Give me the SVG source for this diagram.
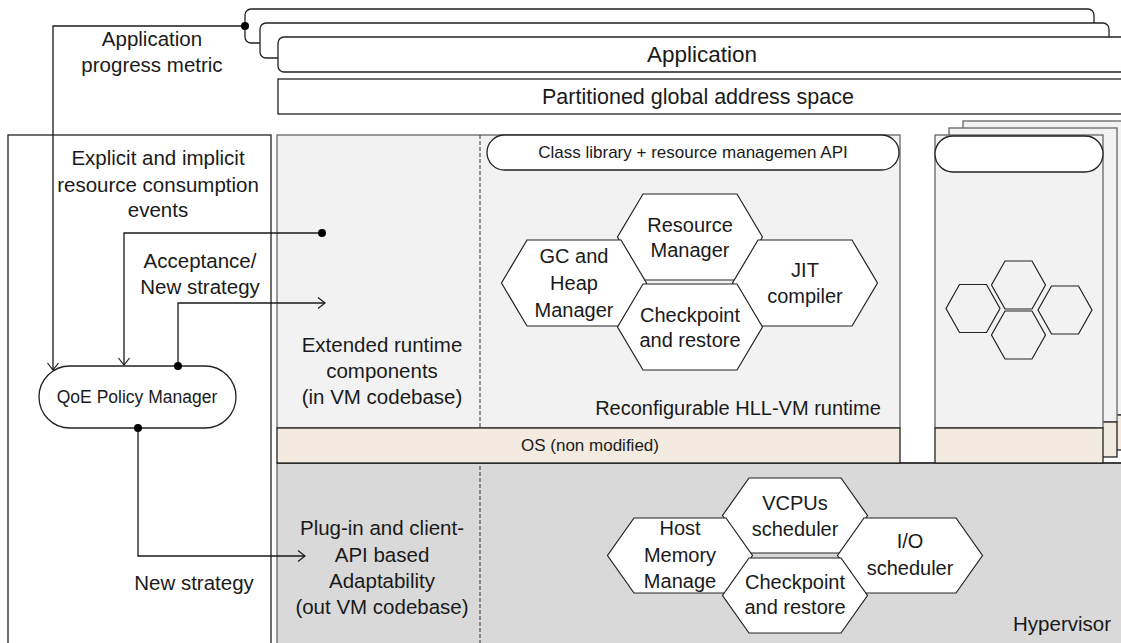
<svg xmlns="http://www.w3.org/2000/svg" width="1121" height="643" viewBox="0 0 1121 643">
<defs>
<style>
text{font-family:"Liberation Sans",Arial,sans-serif;fill:#1a1a1a;text-anchor:middle}
.t20{font-size:20px}
.t21{font-size:20.5px}
.t17{font-size:17px}
.box{fill:#fff;stroke:#222;stroke-width:1.3}
.rt{fill:#f2f2f2;stroke:#666;stroke-width:1.3}
.os{fill:#f3ebe0;stroke:#222;stroke-width:1.3}
.hex{fill:#fff;stroke:#222;stroke-width:1.2}
.shex{fill:none;stroke:#222;stroke-width:1.2}
.conn{fill:none;stroke:#1a1a1a;stroke-width:1.3}
.dash{stroke:#333;stroke-width:1;stroke-dasharray:4 2}
</style>
<marker id="arr" viewBox="-10 -8 12 16" refX="0" refY="0" markerWidth="12" markerHeight="16" markerUnits="userSpaceOnUse" orient="auto">
<path d="M-7,-5.5 L0,0 L-7,5.5" fill="none" stroke="#1a1a1a" stroke-width="1.2"/>
</marker>
</defs>
<rect width="1121" height="643" fill="#fff"/>

<g id="app-stack">
<rect class="box" x="245" y="9" width="849" height="34" rx="6"/>
<rect class="box" x="260" y="23" width="849" height="35" rx="6"/>
<rect class="box" x="278" y="37" width="900" height="35" rx="6"/>
<text class="t21" x="702" y="62" style="font-size:22.5px">Application</text>
</g>
<g id="pgas">
<rect class="box" x="278" y="79" width="900" height="35"/>
<text x="698" y="104" style="font-size:21.5px">Partitioned global address space</text>
</g>

<g id="left-panel">
<rect class="box" x="8" y="135" width="263" height="560"/>
<text class="t21" x="152" y="46">Application</text>
<text class="t21" x="152" y="72">progress metric</text>
<text class="t21" x="158" y="165">Explicit and implicit</text>
<text class="t21" x="158" y="192">resource consumption</text>
<text class="t21" x="158" y="217">events</text>
<text class="t21" x="200" y="268">Acceptance/</text>
<text class="t21" x="200" y="294">New strategy</text>
<text class="t21" x="194" y="590">New strategy</text>
</g>

<g id="hypervisor">
<rect x="277" y="463" width="900" height="200" fill="#d9d9d9" stroke="#666" stroke-width="1.3"/>
<line x1="277" y1="463" x2="1121" y2="463" stroke="#222" stroke-width="1.5"/>
<line class="dash" x1="480" y1="466" x2="480" y2="643"/>
<text class="t21" x="382" y="535">Plug-in and client-</text>
<text class="t21" x="382" y="562">API based</text>
<text class="t21" x="382" y="588">Adaptability</text>
<text class="t21" x="382" y="614">(out VM codebase)</text>
<text class="t21" x="1111" y="631" style="text-anchor:end">Hypervisor</text>
</g>
<g id="hv-vcpu">
<polygon class="hex" points="749,478 841,478 867.5,515.5 841,553 749,553 722.5,515.5"/>
<text class="t20" x="795" y="510">VCPUs</text>
<text class="t20" x="795" y="536">scheduler</text>
</g>
<g id="hv-mem">
<polygon class="hex" points="634,518 726,518 752.5,555.5 726,593 634,593 607.5,555.5"/>
<text class="t20" x="680" y="535">Host</text>
<text class="t20" x="680" y="562">Memory</text>
<text class="t20" x="680" y="588">Manage</text>
</g>
<g id="hv-io">
<polygon class="hex" points="864,518 956,518 982.5,555.5 956,593 864,593 837.5,555.5"/>
<text class="t20" x="910" y="548">I/O</text>
<text class="t20" x="910" y="575">scheduler</text>
</g>
<g id="hv-ckpt">
<polygon class="hex" points="749,558 841,558 867.5,595.5 841,633 749,633 722.5,595.5"/>
<text class="t20" x="795" y="589">Checkpoint</text>
<text class="t20" x="795" y="614">and restore</text>
</g>

<g id="runtime">
<rect class="rt" x="277" y="135" width="623" height="293"/>
<rect class="os" x="277" y="428" width="623" height="35"/>
<line class="dash" x1="480" y1="135" x2="480" y2="428"/>
<text class="t17" x="590" y="451">OS (non modified)</text>
<text class="t21" x="382" y="352">Extended runtime</text>
<text class="t21" x="382" y="378">components</text>
<text class="t21" x="382" y="404">(in VM codebase)</text>
<text class="t20" x="738" y="415">Reconfigurable HLL-VM runtime</text>
</g>
<g id="class-lib">
<rect class="box" x="487" y="135" width="412" height="35" rx="17.5"/>
<text class="t17" x="693" y="158">Class library + resource managemen API</text>
</g>
<g id="rt-resource">
<polygon class="hex" points="643,194 737,194 762.5,237 737,280 643,280 617.5,237"/>
<text class="t20" x="690" y="232">Resource</text>
<text class="t20" x="690" y="257">Manager</text>
</g>
<g id="rt-gc">
<polygon class="hex" points="527,240 621,240 646.5,283 621,326 527,326 501.5,283"/>
<text class="t20" x="574" y="263">GC and</text>
<text class="t20" x="574" y="290">Heap</text>
<text class="t20" x="574" y="317">Manager</text>
</g>
<g id="rt-jit">
<polygon class="hex" points="758,240 852,240 877.5,283 852,326 758,326 732.5,283"/>
<text class="t20" x="805" y="277">JIT</text>
<text class="t20" x="805" y="303">compiler</text>
</g>
<g id="rt-ckpt">
<polygon class="hex" points="643,284 737,284 762.5,327 737,370 643,370 617.5,327"/>
<text class="t20" x="690" y="322">Checkpoint</text>
<text class="t20" x="690" y="347">and restore</text>
</g>

<g id="vm-stack">
<rect class="rt" x="963" y="121" width="200" height="294"/>
<rect class="os" x="963" y="415" width="200" height="35"/>
<rect class="rt" x="949" y="128" width="168" height="294"/>
<rect class="os" x="949" y="422" width="168" height="35"/>
<rect class="rt" x="935" y="135" width="168" height="293"/>
<rect class="os" x="935" y="428" width="168" height="35"/>
<rect class="box" x="935" y="136" width="168" height="36" rx="18"/>
<polygon class="shex" points="959.5,284.5 986.5,284.5 1000,308.5 986.5,332.5 959.5,332.5 946,308.5"/>
<polygon class="shex" points="1005,261 1032,261 1045.5,285 1032,309 1005,309 991.5,285"/>
<polygon class="shex" points="1051.5,286 1078.5,286 1092,310 1078.5,334 1051.5,334 1038,310"/>
<polygon class="shex" points="1005,311 1032,311 1045.5,335 1032,359 1005,359 991.5,335"/>
</g>

<g id="qoe">
<rect class="box" x="39" y="366" width="197" height="62" rx="31"/>
<text x="137" y="403" style="font-size:17.5px">QoE Policy Manager</text>
</g>

<g id="connectors">
<path class="conn" d="M245,26 H53 V370" marker-end="url(#arr)"/>
<circle cx="245" cy="26" r="4" fill="#000"/>
<path class="conn" d="M322,233 H124 V365" marker-end="url(#arr)"/>
<circle cx="322" cy="233" r="4" fill="#000"/>
<path class="conn" d="M178,366 V303 H325" marker-end="url(#arr)"/>
<circle cx="178" cy="366" r="4" fill="#000"/>
<path class="conn" d="M138,428 V556 H305" marker-end="url(#arr)"/>
<circle cx="138" cy="428" r="4" fill="#000"/>
</g>
</svg>
